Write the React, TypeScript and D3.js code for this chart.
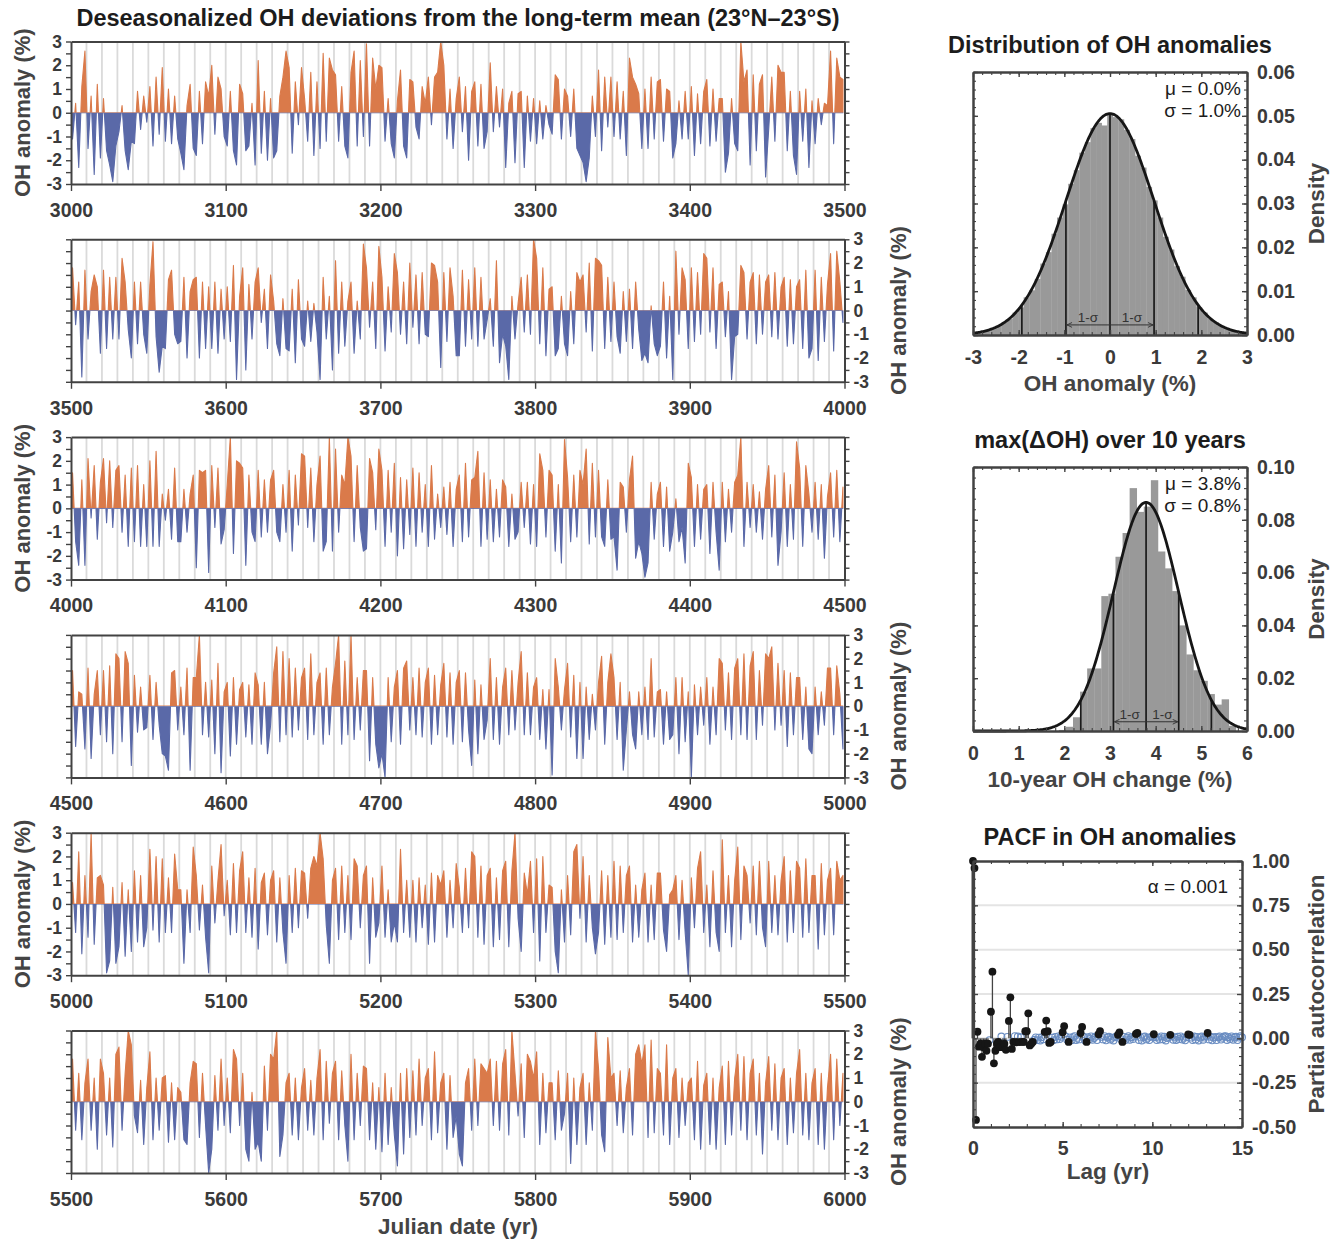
import React, { useRef, useEffect } from "react";
import * as d3 from "d3";

const fig_width = 1342;
const fig_height = 1241;
const font = "'Liberation Sans', Arial, Helvetica, sans-serif";
const orange = "#da7a4a";
const blue = "#5a69a8";
const axis_color = "#424242";
const label_color = "#3a3a3a";
const title_color = "#1c1c1c";

// deseasonalized OH anomaly (%), one value every 2 years
const oh3000 = [
  -1.1,0.4,-2.3,1.1,2.6, -1.5,0.7,-2.6,1.2,-1.9, 0.6,-1.6,-2.2,-2.9,-1.4, -0.8,0.3,-1.6,-2.4,-1.2, -1.3,0.9,-0.7,0.7,-0.4, 1.1,-1.4,1.5,-0.9,1.9, -1.2,1.0,-1.3,0.7,-1.1, -1.7,-2.4,0.3,1.2,-1.5, -1.8,0.9,-1.3,1.3,0.7, 2.0,-0.9,1.5,1.0,-1.0,
  -1.4,0.9,-1.6,-2.2,1.2, 0.8,-1.6,-1.4,0.4,-2.2, 2.2,-1.7,0.9,-2.0,0.6, -1.9,-1.6,0.7,1.5,2.6, 1.9,-1.7,1.3,-0.5,1.9, 0.6,-1.2,1.7,-1.8,1.3, -1.5,2.5,-1.2,2.3,1.8, 1.6,-1.2,1.1,-1.4,-1.9, 1.7,2.6,-1.4,2.2,-1.0, 2.9,-1.4,2.3,1.0,2.0,
  1.9,-1.2,0.6,-1.3,-1.9, 0.5,1.8,-1.4,-1.9,1.4, 1.3,-0.6,-1.1,1.1,0.4, 1.5,-0.5,1.5,1.7,3.0, 2.0,-1.1,1.0,-1.5,0.6, 1.5,-0.8,1.1,-2.0,0.9, 1.3,-1.4,1.2,-1.5,-0.8, 2.1,-0.8,1.1,-0.6,1.0, -2.3,0.4,0.9,-2.1,0.8, 0.9,-2.3,0.7,-1.2,0.6,
  -1.3,0.5,-1.1,0.3,-0.5, -0.9,1.6,1.4,-1.1,1.0, 0.7,-1.0,1.0,-1.5,-1.8, -2.1,-2.9,-1.9,0.7,-1.0, 1.8,-1.6,1.5,-0.6,1.5, -1.0,1.3,-1.1,0.9,-1.8, 2.3,1.5,1.2,0.8,-1.5, 1.0,-1.5,1.5,-1.1,1.3, 1.4,-1.2,1.0,0.9,-1.9, -1.3,0.5,-1.1,0.9,-1.1,
  1.1,-1.8,0.8,-1.3,0.9, 1.4,-1.4,1.0,-1.2,0.6, 0.6,-2.5,-1.7,0.6,-1.3, -1.6,3.0,1.3,1.8,-2.2, 1.6,-1.6,1.2,1.6,-2.7, -0.7,1.5,-1.2,2.0,1.7, 1.7,-1.6,0.9,-1.8,-2.6, 0.9,-1.2,1.0,-2.3,0.5, -1.3,0.6,-0.5,0.4,0.3, 2.6,-1.3,2.3,1.5,1.4,
];
const oh3500 = [
  1.8,-0.6,1.2,-2.8,1.7, -1.2,0.8,1.5,1.0,-1.8, 1.7,-1.6,1.4,-1.2,1.4, -1.2,2.2,1.2,-0.8,-2.0, 1.2,-1.4,1.2,-1.0,-1.8, 1.1,2.9,-1.1,-2.6,-1.5, -1.6,1.3,1.7,-1.0,-1.4, -1.3,1.4,-2.0,0.8,1.3, 1.4,-2.0,1.2,-1.6,1.0, -1.6,1.2,-1.8,0.9,-1.2,
  1.0,-1.3,1.9,-2.9,0.6, 1.8,-2.5,1.1,-1.2,1.2, 1.8,-0.5,0.9,-1.6,1.5, 0.4,-1.4,-1.9,0.5,-1.6, -1.7,0.9,-2.2,1.3,-1.2, -1.5,0.4,-1.3,0.3,-0.9, -2.9,1.4,-1.2,0.6,-2.5, 2.1,-1.8,1.2,-1.5,0.4, 1.2,-1.8,0.4,-1.2,2.8, 1.8,-0.7,1.2,-1.6,2.7,
  1.4,-1.7,1.0,-0.9,2.4, 1.6,-1.0,1.2,-1.4,2.0, -0.7,1.5,-1.4,1.6,-1.0, -1.1,2.0,1.9,1.2,-2.4, 1.6,-1.3,1.8,0.6,-1.9, -1.9,1.7,-1.5,1.3,-1.2, 1.8,-1.5,1.4,-1.2,-0.4, 0.5,-1.5,2.1,-2.2,-1.0, -1.5,-2.9,0.6,-1.2,0.3, 1.4,-0.9,1.5,-1.0,3.0,
  2.2,-1.4,1.8,-1.9,0.9, 1.0,-1.9,-1.6,0.6,-1.4, -1.9,0.8,-1.4,1.6,1.2, 1.5,-0.9,2.0,-1.7,2.2, 2.1,1.9,-1.6,1.4,-1.3, 1.2,-1.1,-1.8,0.8,-1.3, 0.9,-1.6,1.2,-0.8,-2.1, -1.8,-2.2,0.2,-1.4,-1.9, -1.5,1.2,-2.0,0.6,-2.9, 2.5,-1.0,1.8,1.3,-1.6,
  1.8,-1.3,1.6,-1.0,2.4, 2.2,-0.9,1.8,-1.6,1.1, 1.2,-1.1,0.8,-2.9,-1.1, -1.0,1.9,1.6,-1.2,1.2, 1.6,-1.4,1.5,-1.0,1.2, 1.5,-1.1,1.6,-1.2,1.0, 1.4,-1.5,1.3,-1.4,1.0, 1.3,-1.6,1.7,-2.0,-1.6, 1.7,-2.1,1.4,-1.3,1.1, 2.4,-1.7,2.5,1.2,-0.5,
];
const oh4000 = [
  1.5,-1.4,-2.4,1.2,-2.4, 2.1,-0.4,1.8,-1.3,1.1, 2.1,-0.6,2.0,-0.8,1.6, 1.8,-1.0,1.4,-1.6,1.7, -1.4,1.8,-1.6,1.0,-1.6, 2.0,-1.6,2.4,-1.6,0.6, -0.5,0.8,-1.3,1.7,-1.4, -1.4,0.8,-1.0,0.6,1.4, -2.5,1.6,1.5,1.6,-2.7, 1.8,-0.8,1.7,-1.5,-0.9,
  1.0,3.0,-1.9,2.0,1.9, 1.7,-2.4,1.4,-1.0,-1.4, 1.6,-1.2,1.2,-1.0,1.2, 1.6,-1.0,-1.4,1.0,-1.0, 1.6,-1.8,1.4,-0.7,2.3, 2.2,-0.8,1.7,-1.4,1.0, 2.2,-1.8,-1.4,3.0,-1.8, 2.5,-1.0,1.4,1.0,3.0, 2.2,-1.4,1.8,-0.8,-1.8, -1.7,2.1,1.5,-0.9,2.5,
  1.6,-1.6,1.6,-1.0,1.9, -2.0,1.3,-1.7,1.2,-1.1, 1.7,-1.6,1.5,-1.0,1.0, -1.6,1.8,-1.3,0.6,-0.8, 0.9,-1.1,1.1,-1.6,0.8, 1.4,-1.4,1.9,-1.2,1.2, 1.3,2.4,-1.6,1.5,-1.3, 1.2,-1.4,0.8,-1.2,1.2, 0.9,-1.6,0.6,-1.3,-1.0, 1.1,-0.8,1.1,-1.5,1.0,
  -1.6,2.3,1.6,-1.2,1.6, 1.4,-1.8,1.0,-2.3,2.9, 1.3,-1.4,1.4,-1.2,1.6, 1.0,2.5,-1.5,1.9,-1.2, 1.6,-1.2,-1.6,1.2,-1.3, -1.2,-2.6,1.1,0.9,-1.0, 1.2,2.2,-2.1,-1.4,-1.9, -2.9,-2.3,1.1,-1.3,0.6, 1.1,-1.6,0.9,-1.8,-1.0, 0.4,-1.4,-0.8,-2.3,1.9,
  1.3,-1.6,1.0,-1.3,0.8, 1.0,-1.9,1.1,-1.0,-2.6, 1.1,-1.4,0.8,-1.0,1.1, 1.4,3.0,-1.6,1.1,-0.8, 1.0,-1.0,0.7,-1.3,0.8, 1.8,-1.2,1.4,-2.4,-1.0, 1.5,-1.6,1.0,-1.3,2.8, 1.7,-1.6,1.8,0.6,-1.0, 1.1,-1.3,1.0,-2.1,0.5, 1.5,-1.2,1.6,-1.4,0.9,
];
const oh4500 = [
  1.5,-1.7,0.6,0.5,-1.8, 1.6,-2.2,0.5,1.5,-1.2, 1.5,-1.5,1.7,-2.0,2.2, 2.0,-1.5,2.3,1.8,-2.5, 1.3,-1.1,0.8,-1.0,-0.9, 1.3,-1.4,1.0,-0.8,-2.0, -2.1,-2.7,1.4,1.5,-1.0, 0.8,-1.2,1.6,-2.7,1.2, 1.2,3.0,-1.2,1.0,-1.3, 1.1,-2.0,1.8,-2.8,0.6,
  1.0,-2.1,1.2,-1.6,0.7, 1.0,-1.3,0.9,-1.6,1.4, 0.9,-1.6,1.0,-2.0,-0.8, 1.4,2.5,-1.5,2.3,-1.2, 2.0,-1.3,1.6,-1.0,1.2, 1.6,-1.4,2.2,-1.2,1.0, 1.4,-1.6,1.6,-1.2,0.8, 1.8,3.0,-1.6,1.9,-1.2, 3.0,-1.4,1.2,-1.0,1.5, 1.5,-2.3,1.2,-1.6,-2.6,
  -2.0,-3.0,1.2,-1.5,0.8, 1.5,-1.6,1.6,1.9,-1.0, 1.2,-1.2,1.6,-1.3,1.0, 1.6,-1.6,1.3,-1.2,0.9, 1.8,-1.3,1.4,-1.6,1.0, 1.5,-1.5,1.4,-1.0,-2.5, 1.1,-2.0,0.9,-1.4,-0.6, 2.0,-1.4,1.2,-1.6,0.8, 1.6,-1.2,1.5,-1.0,1.0, 2.3,-1.2,1.4,-1.2,0.8,
  1.2,-1.4,0.7,-1.8,0.7, -2.9,2.0,0.8,-1.0,0.7, 1.8,-1.3,1.3,-2.2,1.0, -2.2,0.8,-1.4,0.5,-1.0, 1.0,2.1,-1.6,1.0,2.2, 1.2,-1.4,1.0,-2.7,-1.0, 0.6,-1.2,-1.8,0.6,-1.2, 0.8,-1.4,2.0,-1.3,0.6, 0.7,-1.6,0.6,-1.4,-1.2, 1.2,-2.0,1.2,-1.5,0.6,
  -3.0,0.9,-1.2,0.8,-0.8, 1.2,-1.6,0.8,-1.2,2.0, 1.8,-1.0,1.4,-1.4,1.6, 2.0,-1.2,2.2,-1.4,1.7, 2.3,-1.4,1.5,-0.8,2.2, 2.0,2.5,-1.0,1.8,-0.8, 1.5,-1.7,1.4,-1.2,1.2, 1.2,-1.4,0.8,-1.8,-2.0, 0.8,-1.2,0.6,-0.8,1.6, 1.6,-1.2,1.7,0.5,-1.8,
];
const oh5000 = [
  0.9,-1.2,2.2,-2.1,1.2, -1.4,3.0,-1.7,1.1,1.2, 0.8,-2.9,-2.4,0.7,-2.5, -1.8,0.9,-2.2,0.6,-2.0, 1.4,-1.6,1.2,-1.8,-1.0, 2.3,-1.1,2.0,-1.6,1.9, -1.2,1.1,-1.2,2.1,0.6, 0.6,-2.5,0.6,-1.2,2.4, 1.2,-1.1,0.8,-1.4,-2.9, 1.6,-0.8,1.0,2.5,-0.5,
  1.0,-1.3,1.7,-1.2,1.4, 2.2,-1.2,1.1,-1.4,1.5, -1.9,0.9,1.3,-1.3,1.0, 1.4,-1.6,1.1,-1.2,-2.5, 1.2,-1.2,1.5,-1.0,1.4, 1.3,-0.6,1.5,2.0,1.6, 3.0,1.9,-0.9,-2.5,1.0, 1.5,-1.5,1.6,-1.2,1.2, -1.5,1.9,1.6,-1.0,1.2, 1.6,-2.5,1.1,-1.4,-0.8,
  1.6,-1.4,0.6,-1.6,-0.8, -1.6,2.3,-1.2,1.0,-1.4, 1.0,-1.6,1.1,-1.0,0.8, -1.7,1.3,-1.6,1.2,0.8, 1.4,-1.4,1.0,-1.0,1.7, 0.7,-1.2,1.5,-1.0,2.2, 2.0,-1.4,1.6,-1.7,1.2, 1.5,-1.8,1.1,-1.5,1.4, 1.8,-1.8,1.4,3.0,-0.6, -2.0,1.3,0.4,1.8,-1.2,
  1.9,-2.4,2.0,-1.2,0.8, 0.7,-2.0,-2.9,0.6,-1.6, 1.2,-1.3,2.2,2.5,-0.6, 2.0,-1.6,1.2,-1.0,-2.1, -1.2,1.4,-1.7,1.2,-1.4, 1.8,-1.5,1.6,-1.2,1.2, 1.6,-1.6,0.8,-1.4,0.6, 1.3,-1.6,0.8,-1.5,1.3, 1.3,-1.1,-2.0,0.4,0.6, 1.2,-1.5,1.0,-1.2,-3.0,
  1.1,-1.0,1.5,2.2,-1.2, 0.8,-1.8,1.4,-1.2,-2.0, 2.7,-1.2,1.2,-1.8,1.0, 2.4,-1.5,1.6,1.2,-0.8, 1.6,-1.3,1.8,-1.0,-1.8, 1.8,-1.2,1.2,-1.3,1.0, 2.0,-1.6,1.4,-1.2,1.8, 1.5,-1.4,1.9,-1.2,1.2, 1.2,-1.9,1.7,-1.3,1.0, 1.5,-1.3,1.8,1.0,1.2,
];
const oh5500 = [
  1.8,-1.2,1.2,-1.6,0.8, 1.8,-1.2,1.0,-2.0,1.8, 1.2,-1.4,1.0,-1.9,2.0, 2.3,-1.2,1.2,3.0,2.4, -0.6,-1.3,0.9,-1.8,0.6, 2.1,-1.6,1.0,-1.2,1.0, 1.1,-1.7,0.8,-1.6,0.6, 0.4,-1.6,-1.8,0.8,1.7, 1.6,-1.5,1.2,-1.0,-3.0, -2.0,1.1,-1.2,1.8,-1.0,
  1.0,-1.3,2.2,1.8,-1.0, 1.2,-2.0,-2.5,0.4,-2.0, -1.7,-2.5,1.5,-1.2,2.0, 1.8,3.0,-2.3,-1.4,0.8, 1.2,-1.4,1.0,-1.6,0.6, 1.4,-1.2,0.9,-1.4,1.0, 2.2,-1.6,1.7,-0.9,1.2, 1.7,-1.6,1.3,-1.0,-2.5, 2.0,-1.6,1.2,-1.0,1.5, 1.4,-1.6,0.8,-2.0,0.6,
  -2.1,1.2,-1.8,0.6,-1.4, -2.7,1.2,-2.2,1.4,-1.5, 1.3,-1.4,1.8,-1.0,1.0, 1.4,-1.6,2.1,-1.3,0.8, 1.2,-2.0,1.1,-1.5,-0.6, -2.2,-2.7,0.8,1.4,-1.2, 1.8,-1.0,1.6,1.4,1.2, 1.8,-1.0,1.7,-1.2,1.6, 2.2,-1.4,3.0,1.2,-0.6, 1.6,-1.5,2.0,1.7,1.0,
  2.1,-1.8,1.2,-1.3,0.8, 0.8,-1.6,1.3,-1.2,-0.5, 1.2,-2.6,1.0,-1.8,0.6, 1.2,-1.8,0.8,-1.2,3.0, 1.4,-1.4,-2.1,2.7,1.0, 1.2,-1.0,1.3,-1.3,0.6, 1.4,-1.4,2.0,2.4,1.6, 2.4,-1.5,2.6,-1.3,1.4, 1.2,-1.4,2.4,-1.8,1.0, 1.4,-1.5,1.0,-1.0,0.8,
  1.0,-1.6,1.7,-2.0,0.7, 1.2,-1.8,1.0,-2.0,0.6, 1.5,-1.8,1.7,-1.4,1.0, 2.0,-1.2,1.9,-1.6,1.2, 1.8,-1.4,1.2,-2.2,0.8, 1.9,-1.2,1.6,-1.6,1.0, 1.4,-1.8,1.0,-1.3,1.2, 2.2,-1.4,1.2,-1.6,0.8, 1.4,-1.8,1.2,-2.0,0.6, 2.0,-1.6,1.8,-1.0,1.2,
];

const panel_starts = [3000, 3500, 4000, 4500, 5000, 5500];
const panel_series = [oh3000, oh3500, oh4000, oh4500, oh5000, oh5500];
const sample_step = 2;

// histogram of OH anomalies (bin width 0.122 %, centred on 0)
const anom_bin_width = 0.122;
const anom_density = [
  0.0004,0.0007,0.0010,0.0016,0.0020,0.0029,0.0037,0.0051,0.0063,0.0086,0.0102,0.0128,
  0.0163,0.0189,0.0231,0.0268,0.0298,0.0345,0.0376,0.0416,0.0440,0.0472,0.0484,0.0478,
  0.0503,
  0.0497,0.0492,0.0468,0.0447,0.0409,0.0382,0.0338,0.0307,0.0268,0.0224,0.0195,0.0157,
  0.0133,0.0103,0.0086,0.0064,0.0051,0.0037,0.0029,0.0020,0.0015,0.0011,0.0007,0.0005,
];
const anom_fit = { mu: 0.0, sigma: 0.965, peak: 0.0505 };

// histogram of max 10-year OH change (bins of 0.155 % from 1.88 %)
const change_bin_start = 1.88;
const change_bin_width = 0.155;
const change_density = [
  0.0004,0.0016,0.0052,0.0149,0.0237,0.0237,0.0511,0.052,0.066,0.075,0.092,0.083,
  0.085,0.095,0.068,0.0616,0.053,0.040,0.029,0.023,0.019,0.014,0.010,0.012,0.002,
];
const change_fit = { mu: 3.79, sigma: 0.715, peak: 0.0866 };

// partial autocorrelation, monthly lags 0..180
const pacf_values = [
  1.0,0.96,-0.46,0.037,-0.047,-0.03,-0.104,-0.05,-0.03,-0.07,-0.03,-0.01,
  0.15,0.376,-0.141,-0.07,-0.03,-0.02,-0.05,0.01,-0.05,-0.03,-0.065,0.008,
  0.098,0.231,-0.06,-0.02,0.012,-0.022,0.01,-0.021,0.006,-0.02,-0.02,0.04,
  0.04,0.141,-0.04,-0.03,-0.02,-0.008,0.005,-0.01,0.004,-0.012,0.006,-0.005,
  0.036,0.10,0.04,-0.026,-0.02,0.004,-0.01,0.008,-0.006,0.011,-0.004,0.009,
  0.035,0.068,0.01,-0.008,-0.02,0.005,-0.011,0.007,0.012,-0.009,0.003,-0.006,
  0.03,0.064,0.009,-0.012,-0.02,0.006,-0.004,0.011,-0.008,0.002,0.01,-0.01,
  0.023,0.041,0.008,-0.006,0.012,-0.011,0.005,0.009,-0.007,0.003,-0.012,0.006,
  0.011,0.02,0.034,-0.005,-0.02,0.008,-0.01,0.004,0.012,-0.008,0.006,-0.004,
  0.01,0.025,0.03,-0.009,0.005,-0.012,0.007,0.01,-0.006,0.003,-0.01,0.008,
  0.012,0.023,0.006,-0.01,0.004,-0.007,0.011,-0.005,0.009,-0.012,0.002,0.007,
  0.02,0.012,-0.008,0.005,-0.01,0.009,-0.004,0.011,-0.007,0.003,-0.011,0.006,
  0.022,0.02,0.004,-0.009,0.01,-0.006,0.008,-0.012,0.005,0.01,-0.008,0.004,
  0.012,0.03,-0.006,0.009,-0.011,0.004,0.008,-0.01,0.006,0.011,-0.007,0.003,
  0.01,0.012,-0.009,0.006,-0.004,0.011,-0.008,0.005,0.009,-0.01,0.004,0.012,0.006,
];
const pacf_threshold = 0.0173; // alpha = 0.001

const title_size = 23.5;
const axis_title_size = 22.5;
const tick_size = 19.5;

function styleAxis(g: any, size: number) {
  g.select(".domain").attr("stroke", axis_color).attr("stroke-width", 2);
  g.selectAll(".tick line").attr("stroke", axis_color).attr("stroke-width", 1.4);
  g.selectAll(".tick text")
    .attr("fill", label_color)
    .attr("font-family", font)
    .attr("font-size", size)
    .attr("font-weight", "bold");
}

function addText(svg: any, x: number, y: number, txt: string, size: number, opts: any = {}) {
  const t = svg
    .append("text")
    .attr("x", x)
    .attr("y", y)
    .attr("font-family", font)
    .attr("font-size", size)
    .attr("font-weight", opts.weight || "bold")
    .attr("fill", opts.fill || title_color)
    .attr("text-anchor", opts.anchor || "middle")
    .text(txt);
  if (opts.rotate) {
    t.attr("x", 0).attr("y", 0).attr("dy", "0.35em").attr("transform", `translate(${x},${y}) rotate(-90)`);
  }
  return t;
}

function drawSeries(svg: any) {
  const defs = svg.append("defs");
  panel_starts.forEach((start, i) => {
    const top = 41.5 + i * 197.8;
    const bottom = top + 142.5;
    const x = d3.scaleLinear().domain([start, start + 500]).range([71, 844.5]);
    const y = d3.scaleLinear().domain([-3, 3]).range([bottom, top]);
    const g = svg.append("g");

    g.selectAll("line.grid")
      .data(d3.range(start + 10, start + 500, 10))
      .join("line")
      .attr("x1", (d: number) => x(d))
      .attr("x2", (d: number) => x(d))
      .attr("y1", top)
      .attr("y2", bottom)
      .attr("stroke", "#dadada")
      .attr("stroke-width", 1.8);

    defs.append("clipPath").attr("id", `up${i}`)
      .append("rect").attr("x", 71).attr("y", top).attr("width", 773.5).attr("height", y(0) - top);
    defs.append("clipPath").attr("id", `dn${i}`)
      .append("rect").attr("x", 71).attr("y", y(0)).attr("width", 773.5).attr("height", bottom - y(0));

    const pts = panel_series[i].map((v, j) => ({ t: start + 1 + j * sample_step, v }));
    const area = d3
      .area<any>()
      .x((d) => x(d.t))
      .y0(y(0))
      .y1((d) => y(d.v));
    g.append("path").datum(pts).attr("d", area)
      .attr("fill", orange).attr("stroke", orange).attr("stroke-width", 1.1).attr("stroke-linejoin", "round")
      .attr("clip-path", `url(#up${i})`);
    g.append("path").datum(pts).attr("d", area)
      .attr("fill", blue).attr("stroke", blue).attr("stroke-width", 1.1).attr("stroke-linejoin", "round")
      .attr("clip-path", `url(#dn${i})`);

    const labelLeft = i % 2 === 0;
    const yt = d3.range(-3, 3.01, 0.5);
    const fmt = (d: number) => (Number.isInteger(d) ? String(d) : "");
    const left = g.append("g").attr("transform", "translate(71,0)")
      .call(d3.axisLeft(y).tickValues(yt).tickSize(5).tickSizeOuter(0).tickPadding(4)
        .tickFormat(labelLeft ? (fmt as any) : () => ""));
    const right = g.append("g").attr("transform", "translate(844.5,0)")
      .call(d3.axisRight(y).tickValues(yt).tickSize(5).tickSizeOuter(0).tickPadding(4)
        .tickFormat(labelLeft ? () => "" : (fmt as any)));
    const bot = g.append("g").attr("transform", `translate(0,${bottom})`)
      .call(d3.axisBottom(x).tickValues(d3.range(start, start + 501, 100)).tickSize(7).tickSizeOuter(0)
        .tickPadding(12).tickFormat(d3.format("d")));
    const topAx = g.append("g").attr("transform", `translate(0,${top})`)
      .call(d3.axisTop(x).tickValues([]).tickSizeOuter(0));
    styleAxis(left, 17.5);
    styleAxis(right, 17.5);
    styleAxis(bot, tick_size);
    styleAxis(topAx, 15);

    addText(svg, labelLeft ? 22 : 898, (top + bottom) / 2, "OH anomaly (%)", 22, { rotate: true, fill: "#444" });
  });

  addText(svg, 458, 26, "Deseasonalized OH deviations from the long-term mean (23°N–23°S)", title_size);
  addText(svg, 458, 1234, "Julian date (yr)", axis_title_size, { fill: "#444" });
}

function boxAxes(svg: any, x: any, y: any, xt: number[], xm: number[], yt: number[], ym: number[],
  xfmt: any, yfmt: any, xPad: number) {
  const [x0, x1] = x.range();
  const [y0, y1] = y.range();
  const g = svg.append("g");
  const minorSets: [any, string][] = [
    [d3.axisBottom(x).tickValues(xm), `translate(0,${y0})`],
    [d3.axisTop(x).tickValues(xm), `translate(0,${y1})`],
    [d3.axisLeft(y).tickValues(ym), `translate(${x0},0)`],
    [d3.axisRight(y).tickValues(ym), `translate(${x1},0)`],
  ];
  minorSets.forEach(([ax, tr]) => {
    const m = g.append("g").attr("transform", tr)
      .call(ax.tickSize(-3).tickSizeOuter(0).tickFormat(() => ""));
    styleAxis(m, 10);
    m.selectAll(".tick line").attr("stroke-width", 1.1);
  });
  const bot = g.append("g").attr("transform", `translate(0,${y0})`)
    .call(d3.axisBottom(x).tickValues(xt).tickSize(-5).tickSizeOuter(0).tickPadding(xPad).tickFormat(xfmt));
  const topAx = g.append("g").attr("transform", `translate(0,${y1})`)
    .call(d3.axisTop(x).tickValues(xt).tickSize(-5).tickSizeOuter(0).tickFormat(() => ""));
  const left = g.append("g").attr("transform", `translate(${x0},0)`)
    .call(d3.axisLeft(y).tickValues(yt).tickSize(-5).tickSizeOuter(0).tickFormat(() => ""));
  const right = g.append("g").attr("transform", `translate(${x1},0)`)
    .call(d3.axisRight(y).tickValues(yt).tickSize(-5).tickSizeOuter(0).tickPadding(10).tickFormat(yfmt));
  [bot, topAx, left, right].forEach((a) => styleAxis(a, tick_size));
}

function drawHist(svg: any, cfg: any) {
  const x = d3.scaleLinear().domain(cfg.xDomain).range([973, 1247]);
  const y = d3.scaleLinear().domain(cfg.yDomain).range([cfg.bottom, cfg.top]);
  const g = svg.append("g");
  g.selectAll("rect")
    .data(cfg.values)
    .join("rect")
    .attr("x", (_: number, i: number) => x(cfg.binStart + i * cfg.binWidth))
    .attr("width", (_: number, i: number) => x(cfg.binStart + (i + 1) * cfg.binWidth) - x(cfg.binStart + i * cfg.binWidth) + 0.3)
    .attr("y", (d: number) => y(d))
    .attr("height", (d: number) => y(0) - y(d))
    .attr("fill", "#999999");

  const gauss = (v: number) => cfg.fit.peak * Math.exp(-((v - cfg.fit.mu) ** 2) / (2 * cfg.fit.sigma ** 2));
  [-2, -1, 0, 1, 2].forEach((k) => {
    const xv = cfg.fit.mu + k * cfg.fit.sigma;
    g.append("line")
      .attr("x1", x(xv)).attr("x2", x(xv))
      .attr("y1", y(0)).attr("y2", y(gauss(xv)))
      .attr("stroke", "#1a1a1a").attr("stroke-width", 1.7);
  });
  const xs = d3.range(cfg.xDomain[0], cfg.xDomain[1] + 0.001, 0.02);
  g.append("path")
    .datum(xs)
    .attr("d", d3.line<number>().x((d) => x(d)).y((d) => y(gauss(d))))
    .attr("fill", "none")
    .attr("stroke", "#161616")
    .attr("stroke-width", 2.8);

  const ay = y(cfg.arrowY);
  g.append("line")
    .attr("x1", x(cfg.fit.mu - cfg.fit.sigma) + 1).attr("x2", x(cfg.fit.mu + cfg.fit.sigma) - 1)
    .attr("y1", ay).attr("y2", ay)
    .attr("stroke", "#333").attr("stroke-width", 1)
    .attr("marker-start", "url(#arrowhead)").attr("marker-end", "url(#arrowhead)");
  [-0.5, 0.5].forEach((k) =>
    addText(g, x(cfg.fit.mu + k * cfg.fit.sigma), ay - 2.5, "1-σ", 13.5, { weight: "normal", fill: "#333" })
  );

  const major = (d: number[], step: number) => d3.range(d[0], d[1] + step / 2, step);
  boxAxes(svg, x, y,
    major(cfg.xDomain, 1), major(cfg.xDomain, 0.2),
    major(cfg.yDomain, cfg.yStep), major(cfg.yDomain, cfg.yStep / 5),
    (d: number) => String(d), (d: number) => d.toFixed(2), 15);

  addText(svg, 1241, cfg.top + 23, cfg.muText, 19, { weight: "normal", anchor: "end" });
  addText(svg, 1241, cfg.top + 45, cfg.sigmaText, 19, { weight: "normal", anchor: "end" });
  addText(svg, 1110, cfg.top - 19, cfg.title, title_size);
  addText(svg, 1110, cfg.bottom + 56, cfg.xTitle, axis_title_size, { fill: "#444" });
  addText(svg, 1316, (cfg.top + cfg.bottom) / 2, "Density", axis_title_size, { rotate: true, fill: "#444" });
}

function drawPacf(svg: any) {
  const x = d3.scaleLinear().domain([0, 15]).range([973, 1242]);
  const y = d3.scaleLinear().domain([-0.5, 1]).range([1127, 861]);
  const g = svg.append("g");
  g.selectAll("line.hgrid")
    .data([-0.25, 0, 0.25, 0.5, 0.75])
    .join("line")
    .attr("x1", 974).attr("x2", 1241)
    .attr("y1", (d: number) => y(d)).attr("y2", (d: number) => y(d))
    .attr("stroke", "#e4e4e4").attr("stroke-width", 2);

  const pts = pacf_values.map((v, m) => ({ t: m / 12, v }));
  const weak = pts.filter((p) => Math.abs(p.v) <= pacf_threshold);
  const strong = pts.filter((p) => Math.abs(p.v) > pacf_threshold);

  g.selectAll("circle.weak")
    .data(weak)
    .join("circle")
    .attr("cx", (d: any) => x(d.t)).attr("cy", (d: any) => y(d.v)).attr("r", 3.4)
    .attr("fill", "none").attr("stroke", "#6a8dc2").attr("stroke-width", 1.1);
  g.selectAll("line.stem")
    .data(strong)
    .join("line")
    .attr("x1", (d: any) => x(d.t)).attr("x2", (d: any) => x(d.t))
    .attr("y1", y(0)).attr("y2", (d: any) => y(d.v))
    .attr("stroke", "#444").attr("stroke-width", (d: any) => (d.t === 0 ? 3 : 1.3));
  g.selectAll("circle.strong")
    .data(strong)
    .join("circle")
    .attr("cx", (d: any) => x(d.t)).attr("cy", (d: any) => y(d.v)).attr("r", 3.9)
    .attr("fill", "#161616");

  boxAxes(svg, x, y, [0, 5, 10, 15], d3.range(0, 15.01, 1),
    [-0.5, -0.25, 0, 0.25, 0.5, 0.75, 1], d3.range(-0.5, 1.001, 0.05),
    (d: number) => String(d), (d: number) => d.toFixed(2), 14);

  addText(svg, 1228, 893, "α = 0.001", 19, { weight: "normal", anchor: "end" });
  addText(svg, 1110, 845, "PACF in OH anomalies", title_size);
  addText(svg, 1108, 1179, "Lag (yr)", axis_title_size, { fill: "#444" });
  addText(svg, 1316, 994, "Partial autocorrelation", axis_title_size, { rotate: true, fill: "#444" });
}

const App: React.FC = () => {
  const ref = useRef<SVGSVGElement>(null);

  useEffect(() => {
    if (!ref.current) return;
    const svg = d3.select(ref.current);
    svg.selectAll("*").remove();
    svg.append("rect").attr("width", fig_width).attr("height", fig_height).attr("fill", "#fff");
    svg.append("defs")
      .append("marker")
      .attr("id", "arrowhead")
      .attr("viewBox", "0 0 10 10")
      .attr("refX", 9.5).attr("refY", 5)
      .attr("markerWidth", 6).attr("markerHeight", 6)
      .attr("markerUnits", "userSpaceOnUse")
      .attr("orient", "auto-start-reverse")
      .append("path")
      .attr("d", "M1,1 L9.5,5 L1,9")
      .attr("fill", "none").attr("stroke", "#333").attr("stroke-width", 1.5);

    drawSeries(svg);
    drawHist(svg, {
      xDomain: [-3, 3], yDomain: [0, 0.06], yStep: 0.01, top: 72, bottom: 335,
      binStart: -24.5 * anom_bin_width, binWidth: anom_bin_width, values: anom_density,
      fit: anom_fit, arrowY: 0.0023,
      muText: "μ = 0.0%", sigmaText: "σ = 1.0%",
      title: "Distribution of OH anomalies", xTitle: "OH anomaly (%)",
    });
    drawHist(svg, {
      xDomain: [0, 6], yDomain: [0, 0.1], yStep: 0.02, top: 467, bottom: 731,
      binStart: change_bin_start, binWidth: change_bin_width, values: change_density,
      fit: change_fit, arrowY: 0.0035,
      muText: "μ = 3.8%", sigmaText: "σ = 0.8%",
      title: "max(ΔOH) over 10 years", xTitle: "10-year OH change (%)",
    });
    drawPacf(svg);
  }, []);

  return (
    <div style={{ position: "absolute", left: 0, top: 0 }}>
      <svg ref={ref} width={fig_width} height={fig_height} style={{ display: "block" }} />
    </div>
  );
};

export default App;
